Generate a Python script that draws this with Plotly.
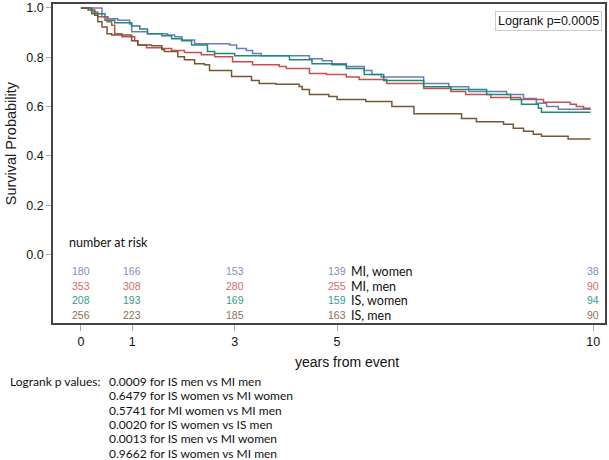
import plotly.graph_objects as go

# ---- data ----
mi_women_t = [0, 0.41, 0.53, 0.72, 0.95, 0.99, 1.30, 1.69, 1.83, 1.97, 2.22, 2.90, 3.04, 3.23, 3.35, 3.52, 4.46, 4.71, 4.90, 5.18, 5.53, 5.68, 5.86, 6.69, 7.18, 7.57, 8.31, 8.64, 8.89, 9.09, 9.32, 9.95]
mi_women_s = [1.0, 0.964, 0.956, 0.95, 0.935, 0.903, 0.895, 0.89, 0.883, 0.87, 0.855, 0.85, 0.835, 0.827, 0.815, 0.806, 0.794, 0.786, 0.774, 0.762, 0.746, 0.73, 0.72, 0.694, 0.68, 0.661, 0.649, 0.633, 0.613, 0.60, 0.589, 0.589]

mi_men_t = [0, 0.21, 0.33, 0.51, 0.60, 0.66, 0.80, 1.05, 1.11, 1.28, 1.58, 1.77, 2.02, 2.35, 2.61, 2.96, 3.35, 3.87, 4.01, 4.46, 4.79, 5.18, 5.43, 5.97, 6.69, 7.22, 7.51, 8.00, 8.58, 9.03, 9.55, 9.67, 9.81, 9.95]
mi_men_s = [1.0, 0.984, 0.964, 0.944, 0.93, 0.895, 0.883, 0.867, 0.85, 0.839, 0.835, 0.827, 0.819, 0.81, 0.802, 0.782, 0.77, 0.762, 0.754, 0.734, 0.73, 0.72, 0.71, 0.694, 0.673, 0.661, 0.649, 0.637, 0.629, 0.617, 0.609, 0.60, 0.593, 0.593]

is_women_t = [0, 0.21, 0.47, 0.66, 0.99, 1.15, 1.30, 1.58, 1.77, 1.97, 2.16, 2.47, 2.61, 3.00, 4.07, 4.51, 4.90, 5.18, 5.53, 5.91, 6.69, 7.22, 7.92, 8.39, 8.60, 8.93, 8.99, 9.95]
is_women_s = [1.0, 0.976, 0.95, 0.94, 0.927, 0.915, 0.895, 0.887, 0.875, 0.867, 0.85, 0.823, 0.815, 0.806, 0.79, 0.774, 0.77, 0.754, 0.73, 0.706, 0.68, 0.669, 0.649, 0.629, 0.609, 0.593, 0.577, 0.577]

is_men_t = [0, 0.14, 0.27, 0.33, 0.41, 0.51, 0.60, 0.99, 1.11, 1.38, 1.58, 1.63, 1.89, 2.02, 2.22, 2.41, 2.51, 2.94, 3.33, 3.48, 3.81, 4.26, 4.32, 4.46, 4.84, 5.00, 5.56, 6.07, 6.50, 7.43, 7.72, 8.25, 8.44, 8.64, 8.83, 8.99, 9.51, 9.95]
is_men_s = [1.0, 0.992, 0.97, 0.944, 0.923, 0.895, 0.89, 0.867, 0.85, 0.847, 0.831, 0.823, 0.802, 0.79, 0.774, 0.77, 0.746, 0.722, 0.706, 0.694, 0.69, 0.681, 0.669, 0.649, 0.641, 0.629, 0.62, 0.60, 0.571, 0.552, 0.538, 0.528, 0.512, 0.50, 0.488, 0.48, 0.468, 0.468]

group_names = ["MI, women", "MI, men", "IS, women", "IS, men"]
risk_times = [0, 1, 3, 5, 10]
risk_mi_women = [180, 166, 153, 139, 38]
risk_mi_men = [353, 308, 280, 255, 90]
risk_is_women = [208, 193, 169, 159, 94]
risk_is_men = [256, 223, 185, 163, 90]

x_ticks = [0, 1, 3, 5, 10]
y_ticks = [0.0, 0.2, 0.4, 0.6, 0.8, 1.0]

logrank_overall = "Logrank p=0.0005"
pvalue_lines = [
    "0.0009 for IS men vs MI men",
    "0.6479 for IS women vs MI women",
    "0.5741 for MI women vs MI men",
    "0.0020 for IS women vs IS men",
    "0.0013 for IS men vs MI women",
    "0.9662 for IS women vs MI men",
]

# ---- styling ----
line_colors = ["#6a7cc0", "#c8504c", "#1f8a78", "#7a5734"]
risk_colors = ["#7f8cc8", "#cf6a66", "#3a9a8a", "#947050"]

fig = go.Figure()
series = [(mi_women_t, mi_women_s), (mi_men_t, mi_men_s), (is_women_t, is_women_s), (is_men_t, is_men_s)]
for (t, s), name, col in zip(series, group_names, line_colors):
    fig.add_trace(go.Scatter(x=t, y=s, mode="lines", line=dict(shape="hv", color=col, width=1.5),
                             name=name, showlegend=False, hoverinfo="skip"))

annotations = []
risk_rows = [risk_mi_women, risk_mi_men, risk_is_women, risk_is_men]
row_y = [-0.068, -0.129, -0.186, -0.246]
for row, ry, col, name in zip(risk_rows, row_y, risk_colors, group_names):
    for t, n in zip(risk_times, row):
        annotations.append(dict(x=t, y=ry, xref="x", yref="y", text=str(n), showarrow=False,
                                xanchor="center", yanchor="middle",
                                font=dict(family="Liberation Sans, Arial", size=10.5, color=col)))
    annotations.append(dict(x=5.23, y=ry, xref="x", yref="y", text=name, showarrow=False,
                            xanchor="left", yanchor="middle",
                            font=dict(family="Lato, Open Sans", size=12.5, color="#111111")))

annotations.append(dict(x=-0.27, y=0.05, xref="x", yref="y", text="number at risk", showarrow=False,
                        xanchor="left", yanchor="middle",
                        font=dict(family="Lato, Open Sans", size=12.5, color="#111111")))

# overall logrank box
annotations.append(dict(x=0.995, y=0.978, xref="paper", yref="paper", text=logrank_overall, showarrow=False,
                        xanchor="right", yanchor="top", bordercolor="#cccccc", borderwidth=1, borderpad=2,
                        bgcolor="white",
                        font=dict(family="Liberation Sans, Arial", size=12.5, color="#111111")))

# axis titles
W, H = 609, 460
L, R, T, B = 53, 2, 2, 137
pw, ph = W - L - R, H - T - B

def px_x(px):
    return (px - L) / pw

def px_y(py):
    return (H - B - py) / ph

annotations.append(dict(x=px_x(348), y=px_y(362), xref="paper", yref="paper", text="years from event",
                        showarrow=False, xanchor="center", yanchor="middle",
                        font=dict(family="Liberation Sans, Arial", size=14, color="#111111")))
annotations.append(dict(x=px_x(11), y=px_y(142), xref="paper", yref="paper", text="Survival Probability",
                        showarrow=False, xanchor="center", yanchor="middle", textangle=-90,
                        font=dict(family="Liberation Sans, Arial", size=14.5, color="#222222")))

# bottom p-value text
annotations.append(dict(x=px_x(8), y=px_y(382), xref="paper", yref="paper", text="Logrank p values:",
                        showarrow=False, xanchor="left", yanchor="middle",
                        font=dict(family="Lato, Open Sans", size=12, color="#111111")))
for i, line in enumerate(pvalue_lines):
    annotations.append(dict(x=px_x(107), y=px_y(382 + i * 14.4), xref="paper", yref="paper", text=line,
                            showarrow=False, xanchor="left", yanchor="middle",
                            font=dict(family="Lato, Open Sans", size=12, color="#111111")))

fig.update_layout(
    width=W, height=H,
    margin=dict(l=L, r=R, t=T, b=B),
    paper_bgcolor="white", plot_bgcolor="white",
    annotations=annotations,
    xaxis=dict(range=[-0.545, 10.23], tickvals=x_ticks, ticktext=[str(v) for v in x_ticks],
               showgrid=False, zeroline=False, showline=True, linecolor="#444444", linewidth=1.5,
               mirror=True, ticks="outside", ticklen=6, tickcolor="#aaaaaa", tickwidth=1,
               tickfont=dict(family="Liberation Sans, Arial", size=12.5, color="#111111")),
    yaxis=dict(range=[-0.278, 1.016], tickvals=y_ticks, ticktext=["%.1f" % v for v in y_ticks],
               showgrid=False, zeroline=False, showline=True, linecolor="#444444", linewidth=1.5,
               mirror=True, ticks="outside", ticklen=5, tickcolor="#aaaaaa", tickwidth=1,
               tickfont=dict(family="Liberation Sans, Arial", size=12.5, color="#111111")),
)

fig.write_html("out.html", config={"displayModeBar": False},
               post_script="document.body.style.margin='0';document.body.style.overflow='hidden';")
